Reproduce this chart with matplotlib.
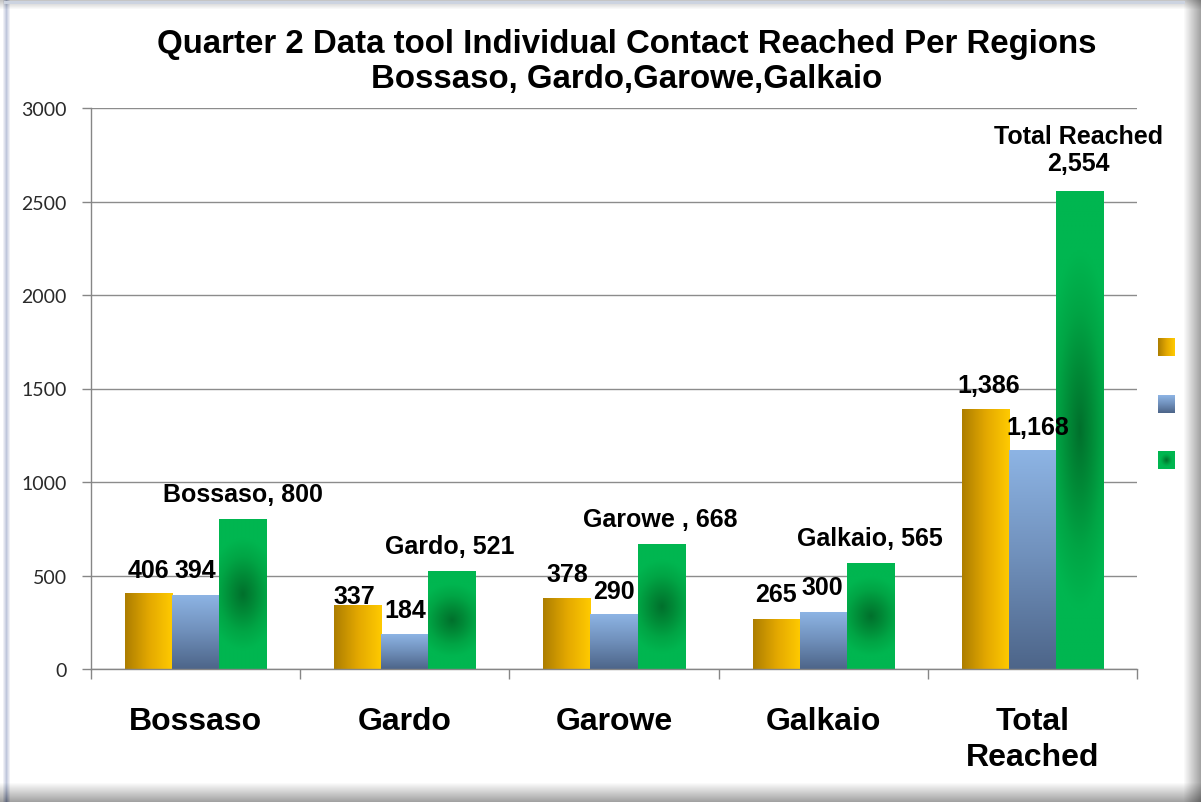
import numpy as np
import matplotlib.pyplot as plt
from matplotlib.colors import LinearSegmentedColormap

# chart data
regions = ["Bossaso", "Gardo", "Garowe", "Galkaio", "Total\nReached"]
series_a = [406, 337, 378, 265, 1386]
series_b = [394, 184, 290, 300, 1168]
series_c = [800, 521, 668, 565, 2554]
c_labels = ["Bossaso, 800", "Gardo, 521", "Garowe , 668", "Galkaio, 565",
            "Total Reached\n2,554"]
y_ticks = [0, 500, 1000, 1500, 2000, 2500, 3000]
title = "Quarter 2 Data tool Individual Contact Reached Per Regions\nBossaso, Gardo,Garowe,Galkaio"

# label nudges (pixels) : dx, height of text centre above bar top
off_a = [(0, 23), (-3, 10), (0, 24), (0, 25), (3, 25)]
off_b = [(0, 25), (0, 25), (0, 24), (-1, 26), (5, 24)]
off_c = [(0, 25), (-2, 26), (-1, 25), (0, 25), (-1, 42)]

W, H = 1201, 803
bold = 'Liberation Sans'

cm_a = LinearSegmentedColormap.from_list('a', ['#ad7e00', '#e3a800', '#ffca00'])
cm_b = LinearSegmentedColormap.from_list('b', ['#8db4e4', '#6f8fba', '#4d6589'])
cm_c = LinearSegmentedColormap.from_list('c', ['#00702c', '#008a37', '#00a545', '#00b650', '#00b650'])

fig = plt.figure(figsize=(W/100, H/100), dpi=100)

# frame with soft shadow
img = np.ones((H, W, 3))
xs = np.arange(W)
ys = np.arange(H)
right = np.clip((xs - 1183) / 18., 0, 1)
bottom = np.clip((ys - 783) / 20., 0, 1)
img *= (1 - 0.38*right)[None, :, None]
img *= (1 - 0.38*bottom)[:, None, None]
top = np.clip((10 - ys) / 10., 0, 1)
img *= (1 - 0.25*top)[:, None, None]
left = np.clip(1 - np.abs(xs - 6) / 4., 0, 1)
img[:, :, 0] -= 0.25*left[None, :]
img[:, :, 1] -= 0.22*left[None, :]
img[:, :, 2] -= 0.14*left[None, :]
img[2:5, 4:1185, :] = [0.80, 0.83, 0.88]
bg = fig.add_axes([0, 0, 1, 1], zorder=-10)
bg.imshow(np.clip(img, 0, 1), aspect='auto')
bg.axis('off')

ax = fig.add_axes([91/W, 133/H, 1046/W, 561/H])
ax.patch.set_alpha(0)

x = np.arange(len(regions))
bw = 0.225


def gradient_bar(rect, kind):
    bx, by = rect.get_x(), rect.get_y()
    w, h = rect.get_width(), rect.get_height()
    if kind == 'a':
        g = np.linspace(0, 1, 64).reshape(1, -1)
        cm = cm_a
    elif kind == 'b':
        g = np.linspace(0, 1, 128).reshape(-1, 1)
        cm = cm_b
    else:
        yy, xx = np.mgrid[-1:1:200j, -1:1:60j]
        g = np.clip(np.sqrt((0.5*xx)**2 + yy**2), 0, 1)
        cm = cm_c
    ax.imshow(g, cmap=cm, vmin=0, vmax=1, extent=[bx, bx+w, by, by+h],
              aspect='auto', zorder=2, interpolation='bilinear')


sets = [(series_a, -bw, 'a', off_a), (series_b, 0, 'b', off_b), (series_c, bw, 'c', off_c)]
for vals, dx, kind, offs in sets:
    bars = ax.bar(x + dx, vals, bw, color='none', edgecolor='none', zorder=3)
    for i, r in enumerate(bars):
        gradient_bar(r, kind)
        if kind == 'c':
            txt = c_labels[i]
        else:
            txt = f"{vals[i]:,}"
        ax.annotate(txt, (r.get_x() + r.get_width()/2, vals[i]),
                    xytext=offs[i], textcoords='offset pixels',
                    ha='center', va='center', fontsize=18, fontweight='bold',
                    family=bold, zorder=5, linespacing=1.15)

ax.set_xlim(-0.5, len(regions) - 0.5)
ax.set_ylim(0, 3000)
ax.set_yticks(y_ticks)
ax.set_yticklabels([str(t) for t in y_ticks], family='Lato', fontsize=14, color='#2a2a2a')
ax.tick_params(axis='y', length=6.5, width=1, color='#868686', pad=11)

ax.set_xticks(np.arange(len(regions) + 1) - 0.5)
ax.set_xticklabels([])
ax.tick_params(axis='x', which='major', length=7, width=1, color='#868686')
ax.set_xticks(x, minor=True)
ax.set_xticklabels(regions, minor=True, fontsize=23, fontweight='bold', family=bold,
                   linespacing=1.22)
ax.tick_params(axis='x', which='minor', length=0, pad=27)

ax.grid(axis='y', color='#8c8c8c', linewidth=1, zorder=0.5)
ax.set_axisbelow(True)
for s in ['top', 'right']:
    ax.spines[s].set_visible(False)
for s in ['left', 'bottom']:
    ax.spines[s].set_color('#868686')
    ax.spines[s].set_linewidth(1)

fig.text(627/W, 1 - 62/H, title, ha='center', va='center', fontsize=23.8,
         fontweight='bold', family=bold, linespacing=1.2)

# legend: coloured keys only, no text
for k, (cm, yt) in enumerate([(cm_a, 339), (cm_b, 396), (cm_c, 452)]):
    la = fig.add_axes([1158/W, 1 - (yt + 18)/H, 17/W, 18/H])
    if k == 0:
        g = np.linspace(0, 1, 32).reshape(1, -1)
    elif k == 1:
        g = np.linspace(0, 1, 32).reshape(-1, 1)
    else:
        yy, xx = np.mgrid[-1:1:32j, -1:1:32j]
        g = np.clip(np.sqrt(xx**2 + yy**2), 0, 1)
    la.imshow(g, cmap=cm, vmin=0, vmax=1, aspect='auto')
    la.axis('off')

fig.savefig('out.png', dpi=100)
